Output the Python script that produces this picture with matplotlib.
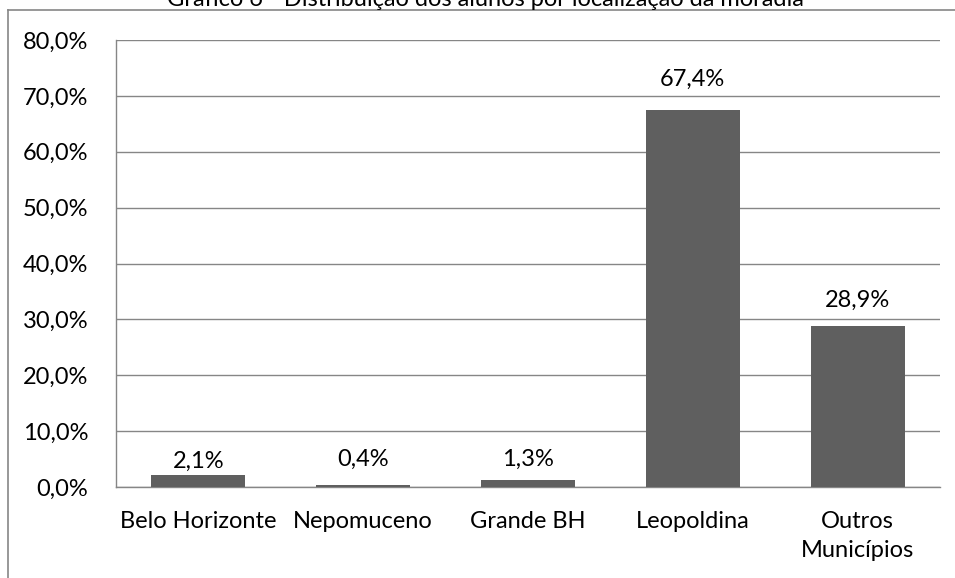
import matplotlib
matplotlib.use("Agg")
import matplotlib.pyplot as plt
from matplotlib.lines import Line2D

categories = ["Belo Horizonte", "Nepomuceno", "Grande BH", "Leopoldina", "Outros\nMunicípios"]
values = [2.1, 0.4, 1.3, 67.4, 28.9]
yticks = [0, 10, 20, 30, 40, 50, 60, 70, 80]
title = "Gráfico 6 - Distribuição dos alunos por localização da moradia"

# label offsets above bar tops (points) - styling
label_offsets = [5, 13.5, 10, 18, 13.5]

plt.rcParams['font.family'] = ['Lato', 'DejaVu Sans']
W, H = 955, 578
FS = 17
fig = plt.figure(figsize=(W/100, H/100), dpi=100)
ax = fig.add_axes([116/W, 1-487/H, (940-116)/W, (487-40)/H])

x = range(len(categories))
ax.bar(x, values, width=0.57, color="#5f5f5f", zorder=3)
ax.set_xlim(-0.5, len(categories)-0.5)
ax.set_ylim(0, 80)
ax.set_yticks(yticks)
ax.set_yticklabels([f"{v:.1f}%".replace(".", ",") for v in yticks], fontsize=FS)
ax.set_xticks(list(x))
ax.set_xticklabels(categories, fontsize=FS, linespacing=1.5)
ax.tick_params(axis='x', length=0, pad=17)
ax.tick_params(axis='y', length=0, pad=20)
ax.grid(axis='y', color="#868686", linewidth=1, zorder=0)
for s in ["top", "right"]:
    ax.spines[s].set_visible(False)
for s in ["left", "bottom"]:
    ax.spines[s].set_color("#868686")
    ax.spines[s].set_linewidth(1)

for xi, v, off in zip(x, values, label_offsets):
    ax.annotate(f"{v:.1f}%".replace(".", ","), (xi, v), xytext=(0, off),
                textcoords="offset points", ha="center", va="baseline", fontsize=FS)

fig.text(485/W, 1-6/H, title, ha="center", va="baseline", fontsize=FS)
fig.add_artist(Line2D([8/W, 1], [1-10/H, 1-10/H], color="#868686", lw=1.2, transform=fig.transFigure))
fig.add_artist(Line2D([8/W, 8/W], [1-10/H, 0], color="#868686", lw=1.2, transform=fig.transFigure))

fig.savefig("out.png", dpi=100)
